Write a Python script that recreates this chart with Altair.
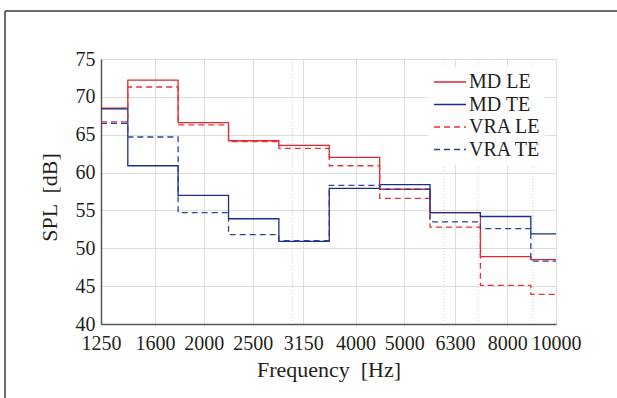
import altair as alt
import pandas as pd

# band centres (Hz) and band edges used for the stairs
centers = [1250, 1600, 2000, 2500, 3150, 4000, 5000, 6300, 8000, 10000]
edges = [1250, 1413, 1778, 2239, 2818, 3548, 4467, 5623, 7079, 8913, 10000]
minor_grid = [3000, 6000, 7000, 9000]

md_le = [68.5, 72.2, 66.6, 64.2, 63.6, 62.0, 57.8, 54.7, 48.9, 48.5]
md_te = [68.4, 60.9, 57.0, 53.9, 50.9, 57.9, 58.4, 54.7, 54.2, 51.9]
vra_le = [66.7, 71.3, 66.3, 64.1, 63.2, 60.9, 56.6, 52.8, 45.1, 43.9]
vra_te = [66.5, 64.7, 54.7, 51.8, 51.0, 58.3, 57.8, 53.5, 52.6, 48.3]

names = ["MD LE", "MD TE", "VRA LE", "VRA TE"]
series_vals = [md_le, md_te, vra_le, vra_te]
colors = ["#e3262c", "#1a2f8c", "#e8333a", "#2a4596"]
dashes = [[1, 0], [1, 0], [6, 4], [6, 4]]

rows = []
for name, vals in zip(names, series_vals):
    stair = vals + [vals[-1]]
    for order, (f, v) in enumerate(zip(edges, stair)):
        rows.append({"series": name, "freq": f, "spl": v, "order": order})
df = pd.DataFrame(rows)

FONT = "Liberation Serif"

x_scale = alt.Scale(type="log", domain=[1250, 10000], nice=False)
y_scale = alt.Scale(domain=[40, 75], nice=False, zero=False)

legend = alt.Legend(title=None, orient="none", legendX=328, legendY=8,
                    symbolType="stroke", symbolSize=1024, clipHeight=22,
                    symbolStrokeWidth=1.5, labelFont=FONT, labelFontSize=20,
                    labelColor="#231f1a", fillColor="white", padding=4,
                    rowPadding=0.5, labelOffset=2, symbolOffset=0)

lines = alt.Chart(df).mark_line(interpolate="step-after", strokeWidth=1.3, clip=True).encode(
    x=alt.X("freq:Q", scale=x_scale,
            axis=alt.Axis(values=centers, format="d", title="Frequency \u00a0[Hz]",
                          labelOverlap=False, labelFlush=False, ticks=False,
                          grid=True, gridColor="#dedede", gridWidth=1,
                          domainColor="#5a5550", domainWidth=1.5,
                          labelPadding=9, titlePadding=6)),
    y=alt.Y("spl:Q", scale=y_scale,
            axis=alt.Axis(values=list(range(40, 80, 5)), title="SPL \u00a0[dB]",
                          ticks=False, grid=True, gridColor="#dedede", gridWidth=1,
                          domainColor="#5a5550", domainWidth=1.5,
                          labelPadding=6, titlePadding=14, titleY=138)),
    color=alt.Color("series:N", scale=alt.Scale(domain=names, range=colors),
                    sort=names, legend=legend),
    strokeDash=alt.StrokeDash("series:N", scale=alt.Scale(domain=names, range=dashes),
                              sort=names, legend=legend),
    order="order:Q",
)

minor = alt.Chart(pd.DataFrame({"freq": minor_grid})).mark_rule(
    color="#cfcfcf", strokeDash=[1, 2], strokeWidth=1
).encode(x=alt.X("freq:Q", scale=x_scale))

frame_df = pd.DataFrame({"a": [0]})
frame_top = alt.Chart(frame_df).mark_rule(color="#3c3c3c", strokeWidth=1.5).encode(
    x=alt.value(-96), x2=alt.value(520), y=alt.value(-48))
frame_left = alt.Chart(frame_df).mark_rule(color="#3c3c3c", strokeWidth=1.5).encode(
    x=alt.value(-96), y=alt.value(-48), y2=alt.value(345))

chart = alt.layer(minor, lines, frame_top, frame_left).properties(
    width=455, height=265,
    autosize=alt.AutoSizeParams(type="none"),
    padding={"left": 101, "top": 59, "right": 61, "bottom": 74},
    background="white",
).configure_view(stroke="#d4d4d4", strokeWidth=1).configure_axis(
    labelFont=FONT, labelFontSize=20, labelColor="#231f1a",
    titleFont=FONT, titleFontSize=22, titleColor="#231f1a", titleFontWeight="normal",
).configure_legend(labelFont=FONT, labelFontSize=20, labelColor="#231f1a")

chart.save("out.html", embed_options={"renderer": "svg", "actions": False})
